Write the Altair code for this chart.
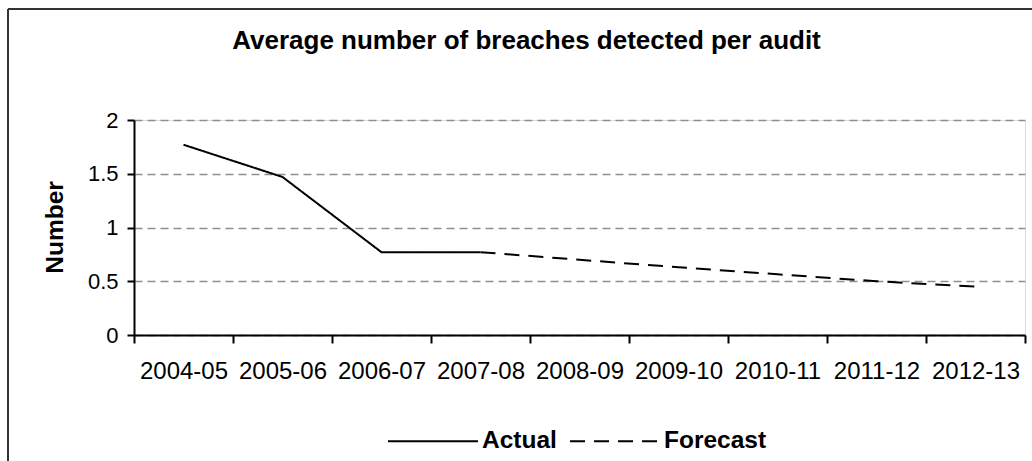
import altair as alt
import pandas as pd

categories = ["2004-05", "2005-06", "2006-07", "2007-08", "2008-09",
              "2009-10", "2010-11", "2011-12", "2012-13"]
actual_years = ["2004-05", "2005-06", "2006-07", "2007-08"]
actual_values = [1.77, 1.47, 0.77, 0.77]
forecast_years = ["2007-08", "2008-09", "2009-10", "2010-11", "2011-12", "2012-13"]
forecast_values = [0.77, 0.70, 0.63, 0.565, 0.50, 0.45]
y_ticks = [0, 0.5, 1, 1.5, 2]
series_names = ["Actual", "Forecast"]

df = pd.DataFrame({
    "year": actual_years + forecast_years,
    "value": actual_values + forecast_values,
    "series": [series_names[0]] * len(actual_years) + [series_names[1]] * len(forecast_years),
})

FONT = "Liberation Sans"

lines = alt.Chart(df).mark_line(color="black", strokeWidth=2).encode(
    x=alt.X(
        "year:N", sort=categories, bandPosition=0.5,
        scale=alt.Scale(type="band", domain=categories, paddingInner=0, paddingOuter=0),
        axis=alt.Axis(title=None, tickBand="extent", labelAngle=0, labelFont=FONT,
                      labelFontSize=24, labelColor="black", labelPadding=16,
                      tickSize=8, tickColor="black", tickWidth=2,
                      domainColor="black", domainWidth=2, grid=False),
    ),
    y=alt.Y(
        "value:Q",
        scale=alt.Scale(domain=[0, 2], nice=False, zero=True),
        axis=alt.Axis(values=y_ticks, format="~g", title="Number", labelFont=FONT,
                      labelFontSize=22, labelColor="black", labelPadding=9, tickSize=7,
                      tickColor="black", tickWidth=2, domainColor="black", domainWidth=2,
                      grid=True, gridColor="#8f8f8f", gridDash=[8, 5], gridWidth=1.5,
                      titleFont=FONT, titleFontSize=24.5, titleFontWeight="bold",
                      titleColor="black", titleX=-79, titleY=107, titleAngle=270,
                      titleAlign="center", titleBaseline="middle"),
    ),
    strokeDash=alt.StrokeDash(
        "series:N",
        scale=alt.Scale(domain=series_names, range=[[1, 0], [15, 9]]),
        legend=alt.Legend(orient="none", legendX=253, legendY=275, direction="horizontal",
                          title=None, symbolType="stroke", symbolSize=8100,
                          symbolStrokeWidth=2, symbolStrokeColor="black",
                          labelFont=FONT, labelFontSize=24.5, labelFontWeight="bold",
                          labelColor="black", labelOffset=3, columnPadding=9),
    ),
)

frame_data = pd.DataFrame({"a": [0]})
border_top = alt.Chart(frame_data).mark_rule(stroke="#333333", strokeWidth=2).encode(
    x=alt.value(-126), x2=alt.value(1300), y=alt.value(-111))
border_left = alt.Chart(frame_data).mark_rule(stroke="#333333", strokeWidth=2).encode(
    x=alt.value(-126), y=alt.value(-111), y2=alt.value(600))

chart = alt.layer(border_top, border_left, lines).properties(
    width=891, height=215,
    autosize=alt.AutoSizeParams(type="none"),
    padding={"left": 134, "top": 120, "right": 7, "bottom": 126},
    title=alt.TitleParams("Average number of breaches detected per audit", font=FONT,
                          fontSize=26, fontWeight="bold", color="black",
                          anchor="middle", dx=-53, offset=-67, baseline="alphabetic"),
).configure_view(stroke="transparent", strokeWidth=0).configure(background="white")

chart.save("out.html", embed_options={"renderer": "svg", "actions": False})
